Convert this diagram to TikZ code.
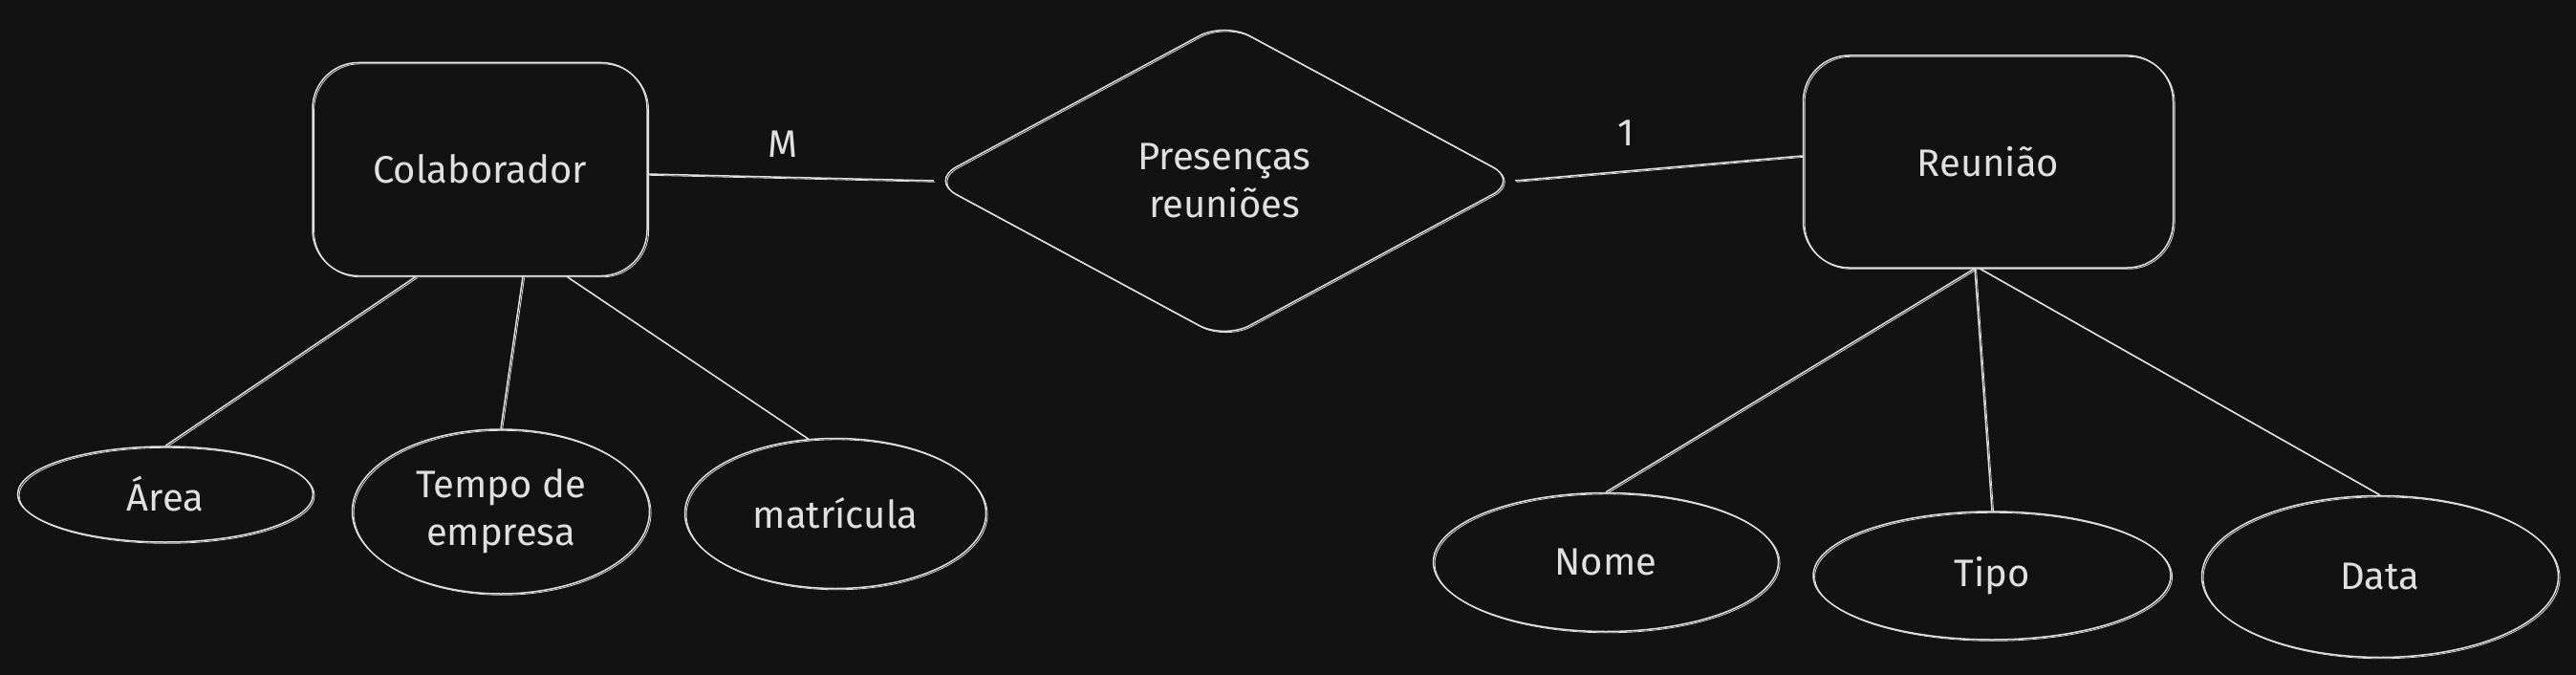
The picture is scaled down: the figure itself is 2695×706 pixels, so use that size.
\documentclass[tikz,border=0pt]{standalone}
\usepackage{fontspec}
\setmainfont{Fira Sans}
\usetikzlibrary{shapes.geometric}
\definecolor{bg}{HTML}{121212}
\definecolor{ink}{HTML}{E0E0E0}
\begin{document}
\begin{tikzpicture}[x=1pt,y=-1pt,
  sk/.style={draw=ink, line width=1.5pt,
    postaction={draw=ink, line width=0.8pt, transform canvas={shift={(1.6pt,-1.3pt)}}}},
  txt/.style={text=ink, font=\fontsize{40}{50}\selectfont, align=center},
  ent/.style={sk, txt, rectangle, rounded corners=48pt, inner sep=0pt},
  rel/.style={sk, txt, diamond, rounded corners=30pt, inner sep=0pt},
  att/.style={sk, txt, ellipse, inner sep=0pt},
  card/.style={text=ink, font=\fontsize{40}{48}\selectfont},
  conn/.style={sk}
]
\fill[bg] (0,0) rectangle (2695,706);
\useasboundingbox (0,0) rectangle (2695,706);

% entities and relationship
\node[ent, minimum width=350pt, minimum height=223pt] (col) at (502,177) {Colaborador};
\node[rel, minimum width=615pt, minimum height=332pt] (pr) at (1281,189) {Presenças\\reuniões};
\node[ent, minimum width=387pt, minimum height=222pt] (reu) at (2080,169) {Reunião};

% attributes
\node[att, minimum width=309pt, minimum height=100pt] (area) at (173,517) {Área};
\node[att, minimum width=311pt, minimum height=172pt] (tempo) at (524,535) {Tempo de\\empresa};
\node[att, minimum width=315pt, minimum height=157pt] (mat) at (874,537) {matrícula};
\node[att, minimum width=361pt, minimum height=145pt] (nome) at (1680,588) {Nome};
\node[att, minimum width=374pt, minimum height=134pt] (tipo) at (2084,602) {Tipo};
\node[att, minimum width=373pt, minimum height=169pt] (data) at (2490,603) {Data};

% cardinalities
\node[card] (lblM) at (819,151) {M};
\node[card] (lbl1) at (1701,139) {1};

% connectors
\draw[conn] ([yshift=-5pt]col.east) -- ([xshift=4pt]pr.west);
\draw[conn] ([xshift=-4pt]pr.east) -- ([yshift=6pt]reu.west);
\draw[conn] ([xshift=-67pt]col.south) -- (area.north);
\draw[conn] ([xshift=45pt]col.south) -- (tempo.north);
\draw[conn] ([xshift=91pt]col.south) -- (mat.110);
\draw[conn] ([xshift=-14pt]reu.south) -- (nome.north);
\draw[conn] ([xshift=-14pt]reu.south) -- (tipo.north);
\draw[conn] ([xshift=-9pt]reu.south) -- (data.north);
\end{tikzpicture}
\end{document}
